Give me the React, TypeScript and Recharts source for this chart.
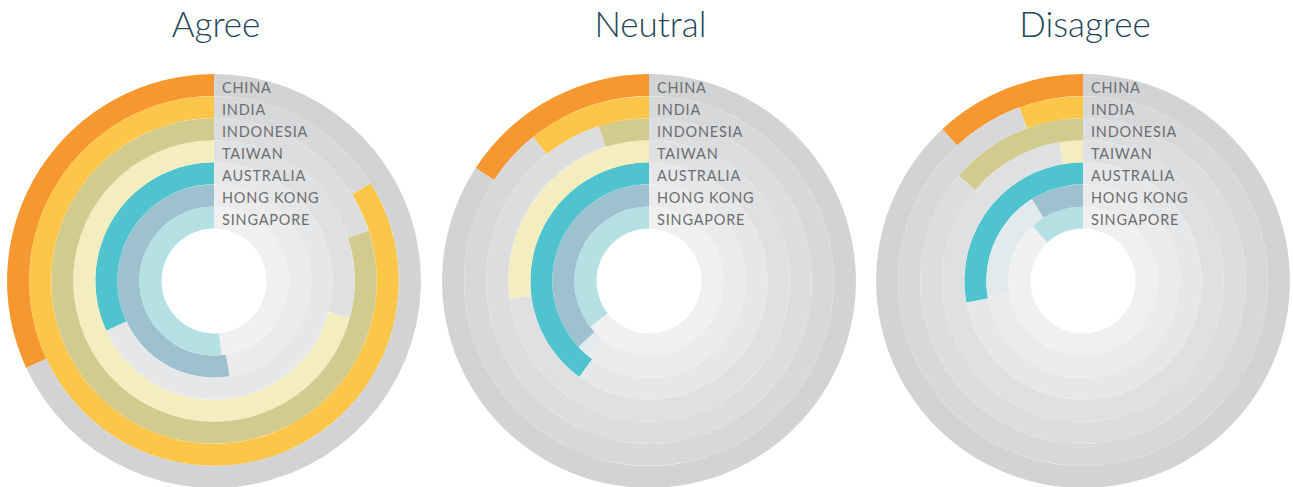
import { RadialBarChart, RadialBar, PolarAngleAxis, PolarRadiusAxis, Cell } from "recharts";

const COUNTRIES = ["CHINA", "INDIA", "INDONESIA", "TAIWAN", "AUSTRALIA", "HONG KONG", "SINGAPORE"];
const PANELS = ["Agree", "Neutral", "Disagree"];

// share of respondents, read from the arcs (full circle = 100)
const AGREE = [31.9, 83.9, 80, 70.8, 31.9, 52.6, 51.6];
const NEUTRAL = [15.8, 10.8, 5, 27, 40, 37, 35.6];
const DISAGREE = [11.9, 5.6, 13.8, 2.7, 27.9, 8.9, 11.9];
// faint leftover band seen on the Hong Kong ring
const TINT = [
  [0, 0, 0, 0, 0, 0, 0],
  [0, 0, 0, 0, 0, 2.2, 0],
  [0, 0, 0, 0, 0, 18.7, 0],
];

const COLORS = ["#F7972F", "#FEC649", "#D1CB8E", "#F3EDC0", "#4FC4CF", "#9EC1D0", "#B5E1E4"];
const TINT_COLOR = "#E2EAEC";
const TRACK = ["#D2D3D5", "#D7D8DA", "#DCDDDF", "#DFE0E2", "#E6E7E8", "#EBEBEC", "#F0F0F0"];

const SERIES = [AGREE, NEUTRAL, DISAGREE];

const CX = 214;
const CY = 281;

function buildRows(values: number[], tint: number[]) {
  // reversed so China ends up as the outer ring
  return COUNTRIES.map((name, i) => ({
    name,
    idx: i,
    value: values[i],
    tint: tint[i],
    rest: 100 - values[i] - tint[i],
  })).reverse();
}

const renderTick = (props: any) => {
  const { x, y, payload } = props;
  return (
    <text
      x={x + 8}
      y={y + 8}
      fill="#6D6E70"
      fontSize={14.5}
      letterSpacing={0.8}
      fontFamily="Lato, sans-serif"
    >
      {payload.value}
    </text>
  );
};

function Panel({ title, index }: { title: string; index: number }) {
  const rows = buildRows(SERIES[index], TINT[index]);
  return (
    <div style={{ position: "absolute", left: index * 434.5, top: 0, width: 430, height: 487 }}>
      <div
        style={{
          position: "absolute",
          top: 3,
          left: 2,
          width: CX * 2,
          textAlign: "center",
          fontFamily: "Lato, sans-serif",
          fontWeight: 300,
          fontSize: 35,
          lineHeight: "40px",
          color: "#24475B",
        }}
      >
        {title}
      </div>
      <div style={{ position: "absolute", left: 0, top: 0 }}>
        <RadialBarChart
          width={430}
          height={487}
          cx={CX}
          cy={CY}
          data={rows}
          innerRadius={52.5}
          outerRadius={207}
          startAngle={90}
          endAngle={450}
          barCategoryGap={0}
          barGap={0}
          margin={{ top: 0, right: 0, bottom: 0, left: 0 }}
        >
          <PolarAngleAxis type="number" domain={[0, 100]} tick={false} axisLine={false} />
          <RadialBar dataKey="value" stackId="s" isAnimationActive={false}>
            {rows.map((r) => (
              <Cell key={r.name} fill={COLORS[r.idx]} />
            ))}
          </RadialBar>
          <RadialBar dataKey="tint" stackId="s" isAnimationActive={false} fill={TINT_COLOR} />
          <RadialBar dataKey="rest" stackId="s" isAnimationActive={false}>
            {rows.map((r) => (
              <Cell key={r.name} fill={TRACK[r.idx]} />
            ))}
          </RadialBar>
          <PolarRadiusAxis
            type="category"
            dataKey="name"
            angle={90}
            axisLine={false}
            tickLine={false}
            tick={renderTick}
          />
        </RadialBarChart>
      </div>
    </div>
  );
}

export default function App() {
  return (
    <div style={{ position: "relative", width: 1293, height: 487, background: "#fff", overflow: "hidden" }}>
      <style>{`body{margin:0}`}</style>
      {PANELS.map((p, i) => (
        <Panel key={p} title={p} index={i} />
      ))}
    </div>
  );
}
